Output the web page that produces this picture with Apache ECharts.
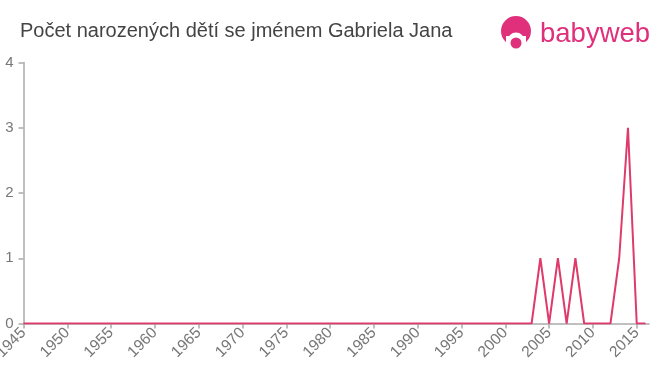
<!DOCTYPE html>
<html>
<head>
<meta charset="utf-8">
<script src="https://cdn.jsdelivr.net/npm/echarts@6/dist/echarts.min.js"></script>
<style>html,body{margin:0;padding:0;background:#fff}#c{width:660px;height:375px}</style>
</head>
<body>
<div id="c"></div>
<script>
var years = [1945,1946,1947,1948,1949,1950,1951,1952,1953,1954,1955,1956,1957,1958,1959,1960,1961,1962,1963,1964,1965,1966,1967,1968,1969,1970,1971,1972,1973,1974,1975,1976,1977,1978,1979,1980,1981,1982,1983,1984,1985,1986,1987,1988,1989,1990,1991,1992,1993,1994,1995,1996,1997,1998,1999,2000,2001,2002,2003,2004,2005,2006,2007,2008,2009,2010,2011,2012,2013,2014,2015,2016];
var counts = [0,0,0,0,0,0,0,0,0,0,0,0,0,0,0,0,0,0,0,0,0,0,0,0,0,0,0,0,0,0,0,0,0,0,0,0,0,0,0,0,0,0,0,0,0,0,0,0,0,0,0,0,0,0,0,0,0,0,0,1,0,1,0,1,0,0,0,0,1,3,0,0];
var xTickLabels = [1945,1950,1955,1960,1965,1970,1975,1980,1985,1990,1995,2000,2005,2010,2015];
var yTickLabels = [0,1,2,3,4];
var titleText = 'Počet narozených dětí se jménem Gabriela Jana';

var chart = echarts.init(document.getElementById('c'), null, {renderer:'canvas'});
var pts = years.map(function(y,i){return [y, counts[i]];});
var font = 'Liberation Sans, Arial, sans-serif';
chart.setOption({
  animation:false,
  title:{text:titleText,left:15,top:16,padding:5,textStyle:{fontFamily:font,fontSize:20,fontWeight:'normal',color:'#444'}},
  grid:{left:23.5,right:11,top:62.5,bottom:51.5,containLabel:false,outerBoundsMode:'none'},
  xAxis:{type:'value',min:1945,max:2016.4,interval:5,
    axisLine:{show:true,lineStyle:{color:'#aaa',width:1.5}},
    axisTick:{show:true,length:5,customValues:xTickLabels,lineStyle:{color:'#aaa',width:1.5}},
    axisLabel:{customValues:xTickLabels,rotate:45,margin:7,color:'#777',fontSize:15.5,fontFamily:font,
      formatter:function(v){return String(v);}},
    splitLine:{show:false}},
  yAxis:{type:'value',min:0,max:4,interval:1,
    axisLine:{show:true,lineStyle:{color:'#aaa',width:1.5}},
    axisTick:{show:true,length:5,customValues:yTickLabels,lineStyle:{color:'#aaa',width:1.5}},
    axisLabel:{customValues:yTickLabels,margin:10,color:'#777',fontSize:15,fontFamily:font,
      formatter:function(v){return String(v);}},
    splitLine:{show:false}},
  series:[{type:'line',data:pts,showSymbol:false,symbol:'none',lineStyle:{color:'#de3a6c',width:2},z:3}],
  graphic:[
    {type:'circle',shape:{cx:516,cy:31,r:15},style:{fill:'#e0307c'}},
    {type:'circle',shape:{cx:516,cy:41,r:8.5},style:{fill:'#fff'}},
    {type:'rect',shape:{x:506,y:36,width:20,height:16},style:{fill:'#fff'}},
    {type:'circle',shape:{cx:516,cy:43,r:5.5},style:{fill:'#e0307c'}},
    {type:'text',left:540,top:20,style:{text:'babyweb',fill:'#e0307c',fontSize:27.5,fontFamily:font}}
  ]
});
</script>
</body>
</html>
